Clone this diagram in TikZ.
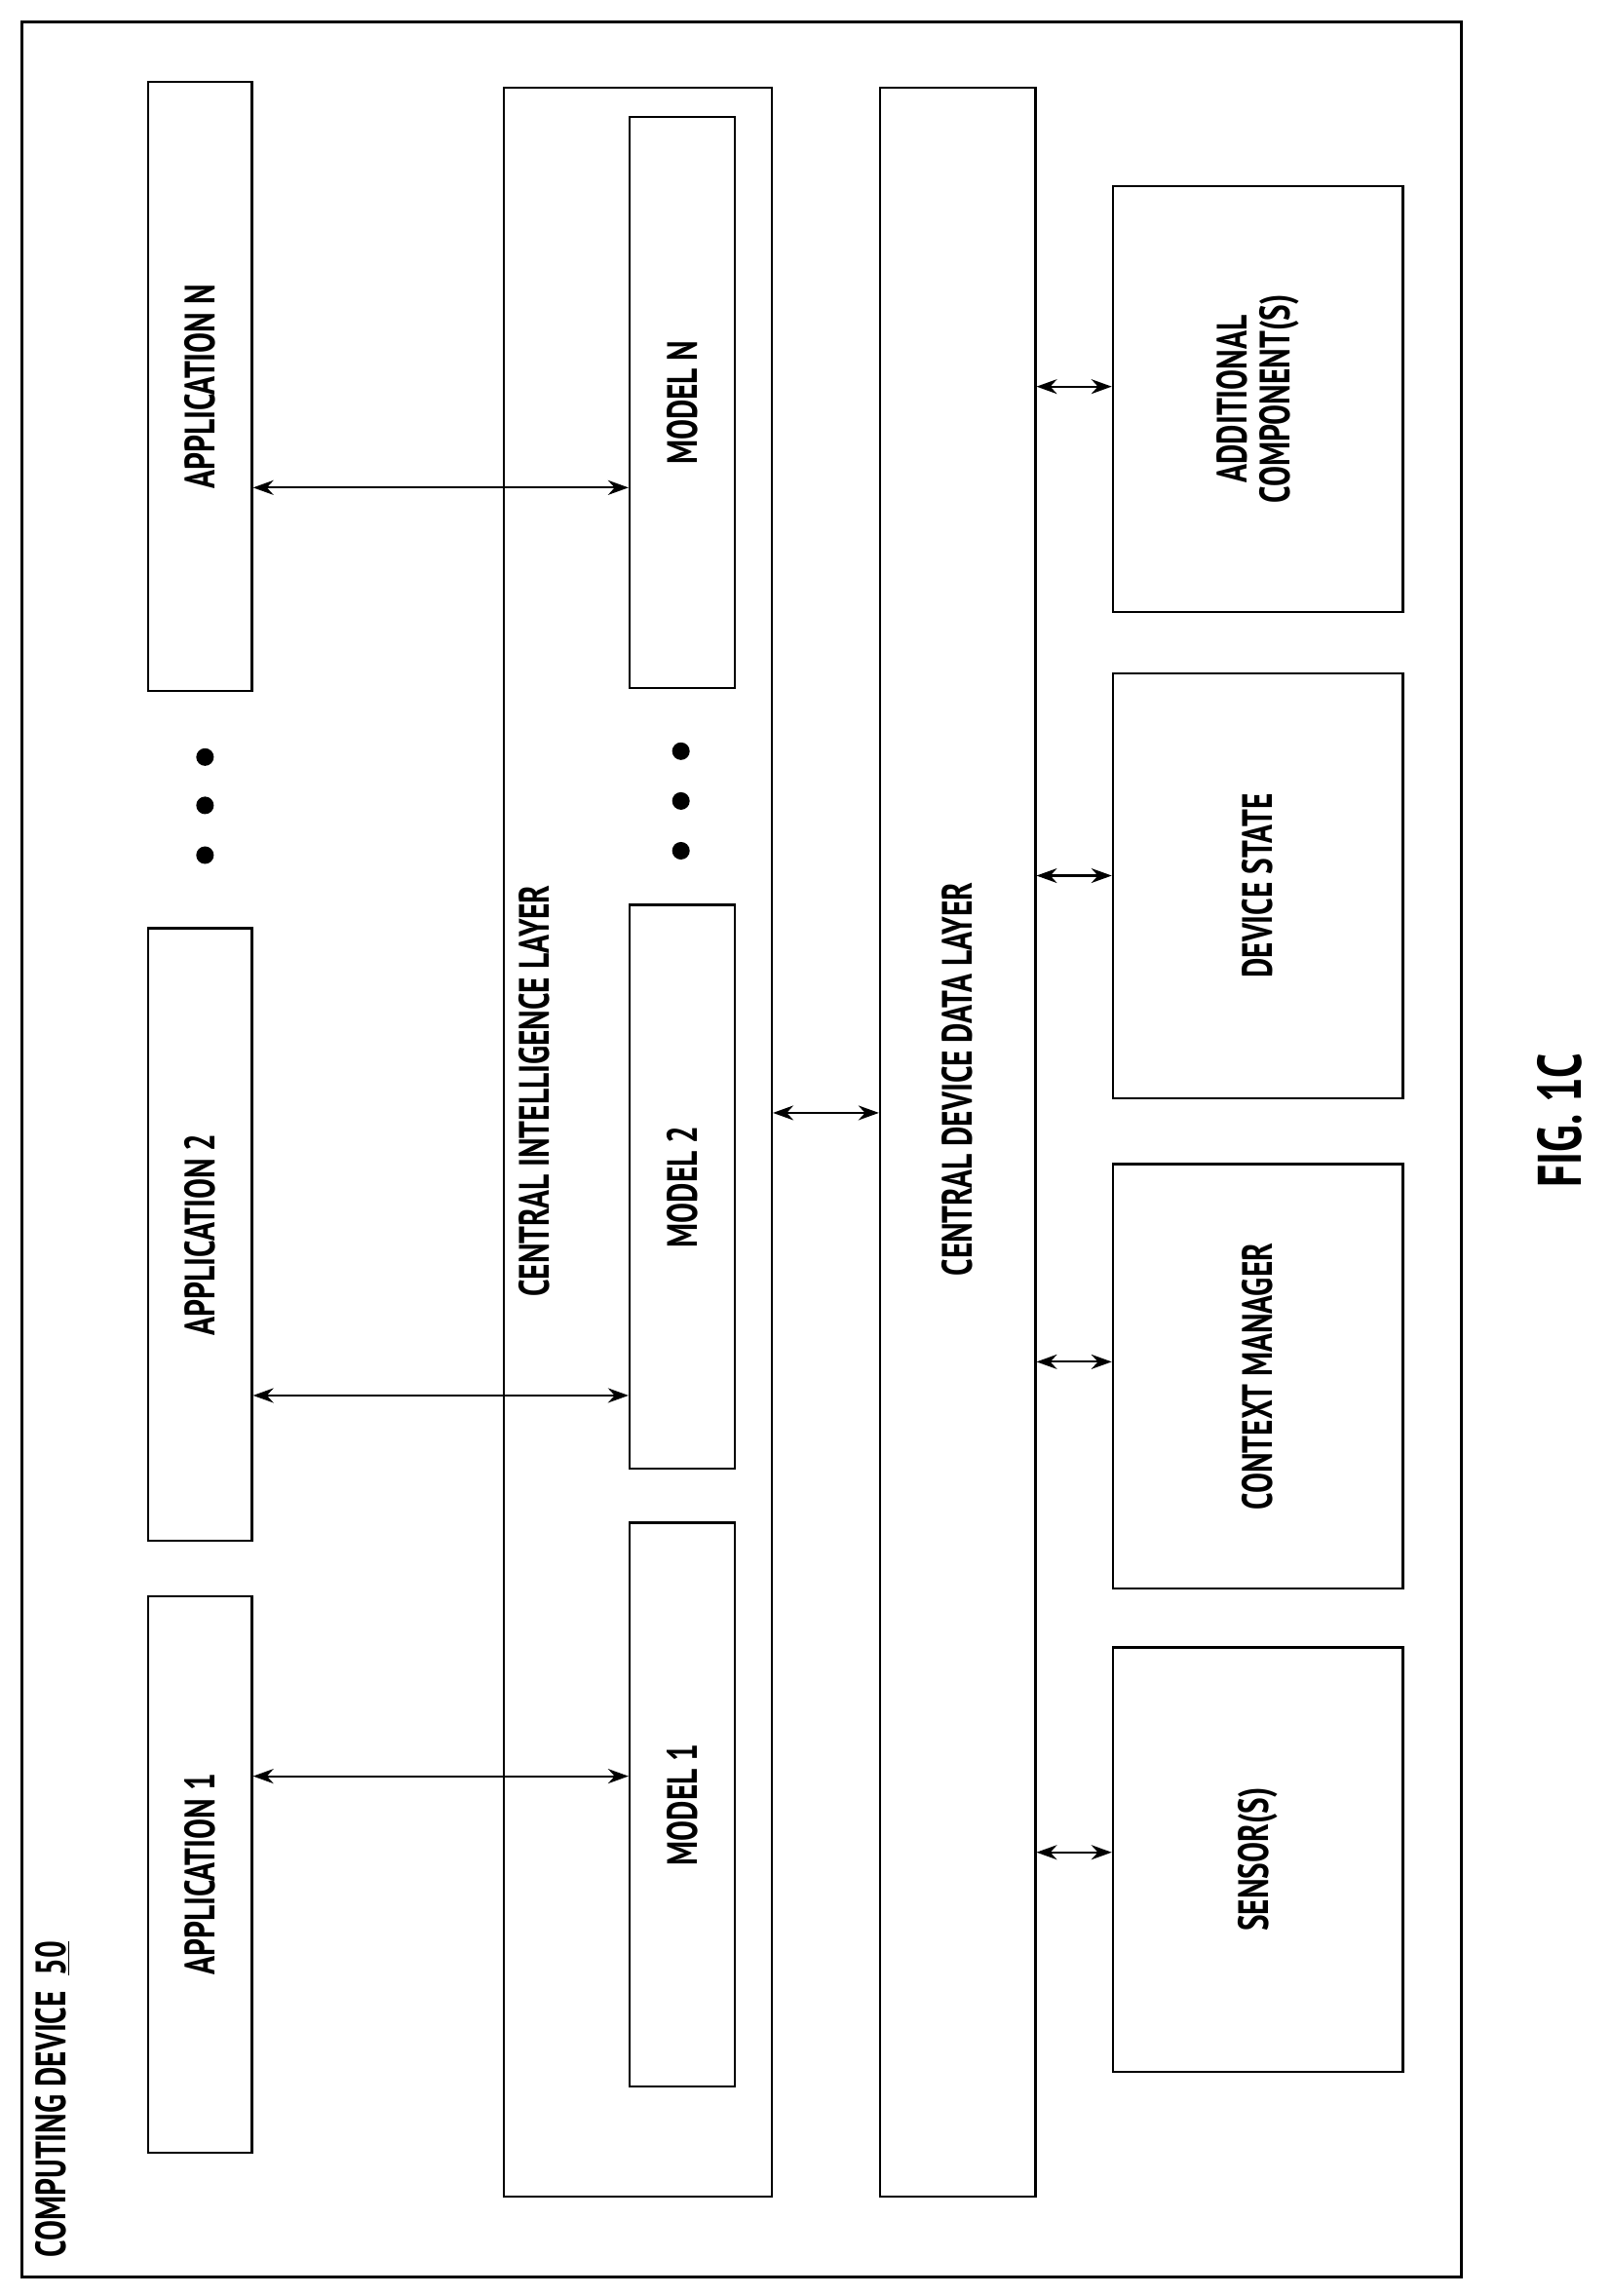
\documentclass[tikz,border=0pt]{standalone}
\usepackage{fontspec}
\newfontfamily\cond[FakeStretch=0.72]{PT Sans}
\usetikzlibrary{arrows.meta}
\begin{document}
\begin{tikzpicture}[x=1pt,y=-1pt,
  box/.style={draw,line width=1.6pt},
  lbl/.style={rotate=90,font=\cond\bfseries\fontsize{29}{31}\selectfont},
  arr/.style={{Stealth[length=14pt,width=10pt]}-{Stealth[length=14pt,width=10pt]},line width=1.4pt}]
\useasboundingbox (0,0) rectangle (1100,1568);
\draw[line width=2pt] (15,15) rectangle (998,1555);
\node[lbl,anchor=west] (cd) at (36,1545) {COMPUTING DEVICE\ \ \underline{50}};
% applications
\node[box,minimum width=71,minimum height=380,inner sep=0] (a1) at (136.5,1280) {};
\node[box,minimum width=71,minimum height=418,inner sep=0] (a2) at (136.5,843) {};
\node[box,minimum width=71,minimum height=416,inner sep=0] (an) at (136.5,264) {};
\node[lbl] at (a1) {APPLICATION 1};
\node[lbl] at (a2) {APPLICATION 2};
\node[lbl] at (an) {APPLICATION N};
\foreach \y [count=\i] in {517,550,584}{\fill (140,\y) circle (6) coordinate (d\i);}
% CIL
\node[box,minimum width=183,minimum height=1440,inner sep=0] (cil) at (435.5,780) {};
\node[lbl] at (365,745) {CENTRAL INTELLIGENCE LAYER};
\node[box,minimum width=72,minimum height=385,inner sep=0] (m1) at (466,1232.5) {};
\node[box,minimum width=72,minimum height=385,inner sep=0] (m2) at (466,810.5) {};
\node[box,minimum width=72,minimum height=390,inner sep=0] (mn) at (466,275) {};
\node[lbl] at (m1) {MODEL 1};
\node[lbl] at (m2) {MODEL 2};
\node[lbl] at (mn) {MODEL N};
\foreach \y [count=\i] in {513,547,581}{\fill (465,\y) circle (6) coordinate (e\i);}
\draw[arr] (a1.east|-0,1213) -- (m1.west|-0,1213);
\draw[arr] (a2.east|-0,953) -- (m2.west|-0,953);
\draw[arr] (an.east|-0,333) -- (mn.west|-0,333);
% CDDL
\node[box,minimum width=106,minimum height=1440,inner sep=0] (cdl) at (654,780) {};
\node[lbl] at (cdl.center|-0,737) {CENTRAL DEVICE DATA LAYER};
\draw[arr] (cil.east|-0,760) -- (cdl.west|-0,760);
% right boxes
\node[box,minimum width=198,minimum height=291,inner sep=0] (ac) at (859,272.5) {};
\node[box,minimum width=198,minimum height=290,inner sep=0] (ds) at (859,605) {};
\node[box,minimum width=198,minimum height=290,inner sep=0] (cm) at (859,940) {};
\node[box,minimum width=198,minimum height=290,inner sep=0] (se) at (859,1270) {};
\node[lbl,align=center] at (ac) {ADDITIONAL\\[-2pt]COMPONENT(S)};
\node[lbl] at (ds) {DEVICE STATE};
\node[lbl] at (cm) {CONTEXT MANAGER};
\node[lbl] at (se) {SENSOR(S)};
\draw[arr] (cdl.east|-0,264) -- (ac.west|-0,264);
\draw[arr] (cdl.east|-0,598) -- (ds.west|-0,598);
\draw[arr] (cdl.east|-0,930) -- (cm.west|-0,930);
\draw[arr] (cdl.east|-0,1265) -- (se.west|-0,1265);
\node[rotate=90,font=\cond\bfseries\fontsize{42}{44}\selectfont] (fig) at (1065,765) {FIG. 1C};
\end{tikzpicture}
\end{document}
